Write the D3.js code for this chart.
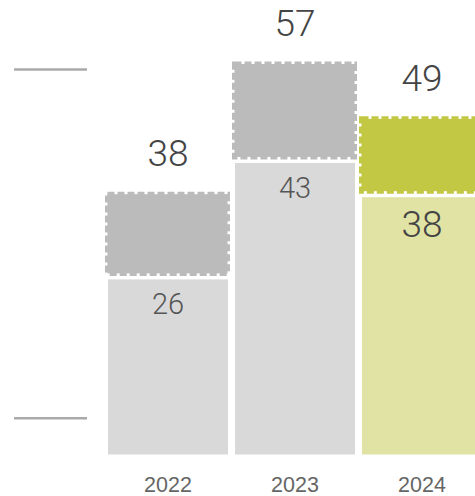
<!DOCTYPE html>
<html>
<head>
<meta charset="utf-8">
<script src="https://cdn.jsdelivr.net/npm/d3@7"></script>
<style>
  html, body { margin: 0; padding: 0; background: #fff; overflow: hidden; }
  svg { display: block; }
</style>
</head>
<body>
<script>
const years = ["2022", "2023", "2024"];
const baseValues = [26, 43, 38];
const totalValues = [38, 57, 49];
const refLines = [56.2, 5.3];

const W = 475, H = 496;
const svg = d3.select("body").append("svg").attr("width", W).attr("height", H);

const y = d3.scaleLinear().domain([0, 60]).range([454.5, 454.5 - 60 * 6.85]);
const x = d3.scaleBand().domain(years).range([108, 482]).paddingInner(0.055).paddingOuter(0);

const data = years.map((yr, i) => ({ year: yr, base: baseValues[i], total: totalValues[i], hl: i === years.length - 1 }));

const colBase = d => d.hl ? "#e1e3a5" : "#d9d9d9";
const colTop = d => d.hl ? "#c3c844" : "#bbbbbb";

// reference lines on the left
svg.selectAll("line.ref").data(refLines).join("line")
  .attr("class", "ref")
  .attr("x1", 14).attr("x2", 87)
  .attr("y1", d => y(d)).attr("y2", d => y(d))
  .attr("stroke", "#aaaaaa").attr("stroke-width", 2.5);

const g = svg.selectAll("g.bar").data(data).join("g").attr("class", "bar");

// upper (dashed) segment
g.append("rect")
  .attr("x", d => x(d.year) - 0.5)
  .attr("width", x.bandwidth())
  .attr("y", d => y(d.total))
  .attr("height", d => y(d.base) - 3 - y(d.total))
  .attr("fill", colTop)
  .attr("stroke", colTop)
  .attr("stroke-width", 5)
  .attr("stroke-dasharray", "7,3");

// lower segment
g.append("rect")
  .attr("x", d => x(d.year))
  .attr("width", x.bandwidth())
  .attr("y", d => y(d.base) + 3)
  .attr("height", d => y(0) - y(d.base) - 3)
  .attr("fill", colBase);

// total labels
g.append("text")
  .attr("x", d => x(d.year) + x.bandwidth() / 2)
  .attr("y", d => y(d.total) - 28)
  .attr("text-anchor", "middle")
  .attr("font-family", "Roboto, sans-serif")
  .attr("font-weight", 300)
  .attr("font-size", 37)
  .attr("fill", "#444")
  .text(d => d.total);

// base labels
g.append("text")
  .attr("x", d => x(d.year) + x.bandwidth() / 2)
  .attr("y", d => y(d.base) + (d.hl ? 43 : 38))
  .attr("text-anchor", "middle")
  .attr("font-family", "Roboto, sans-serif")
  .attr("font-weight", 300)
  .attr("font-size", d => d.hl ? 37 : 29)
  .attr("fill", d => d.hl ? "#444" : "#555")
  .text(d => d.base);

// x axis labels
g.append("text")
  .attr("x", d => x(d.year) + x.bandwidth() / 2)
  .attr("y", 492)
  .attr("text-anchor", "middle")
  .attr("font-family", "'Liberation Sans', Arial, sans-serif")
  .attr("font-size", 21.5)
  .attr("fill", "#666")
  .text(d => d.year);
</script>
</body>
</html>
